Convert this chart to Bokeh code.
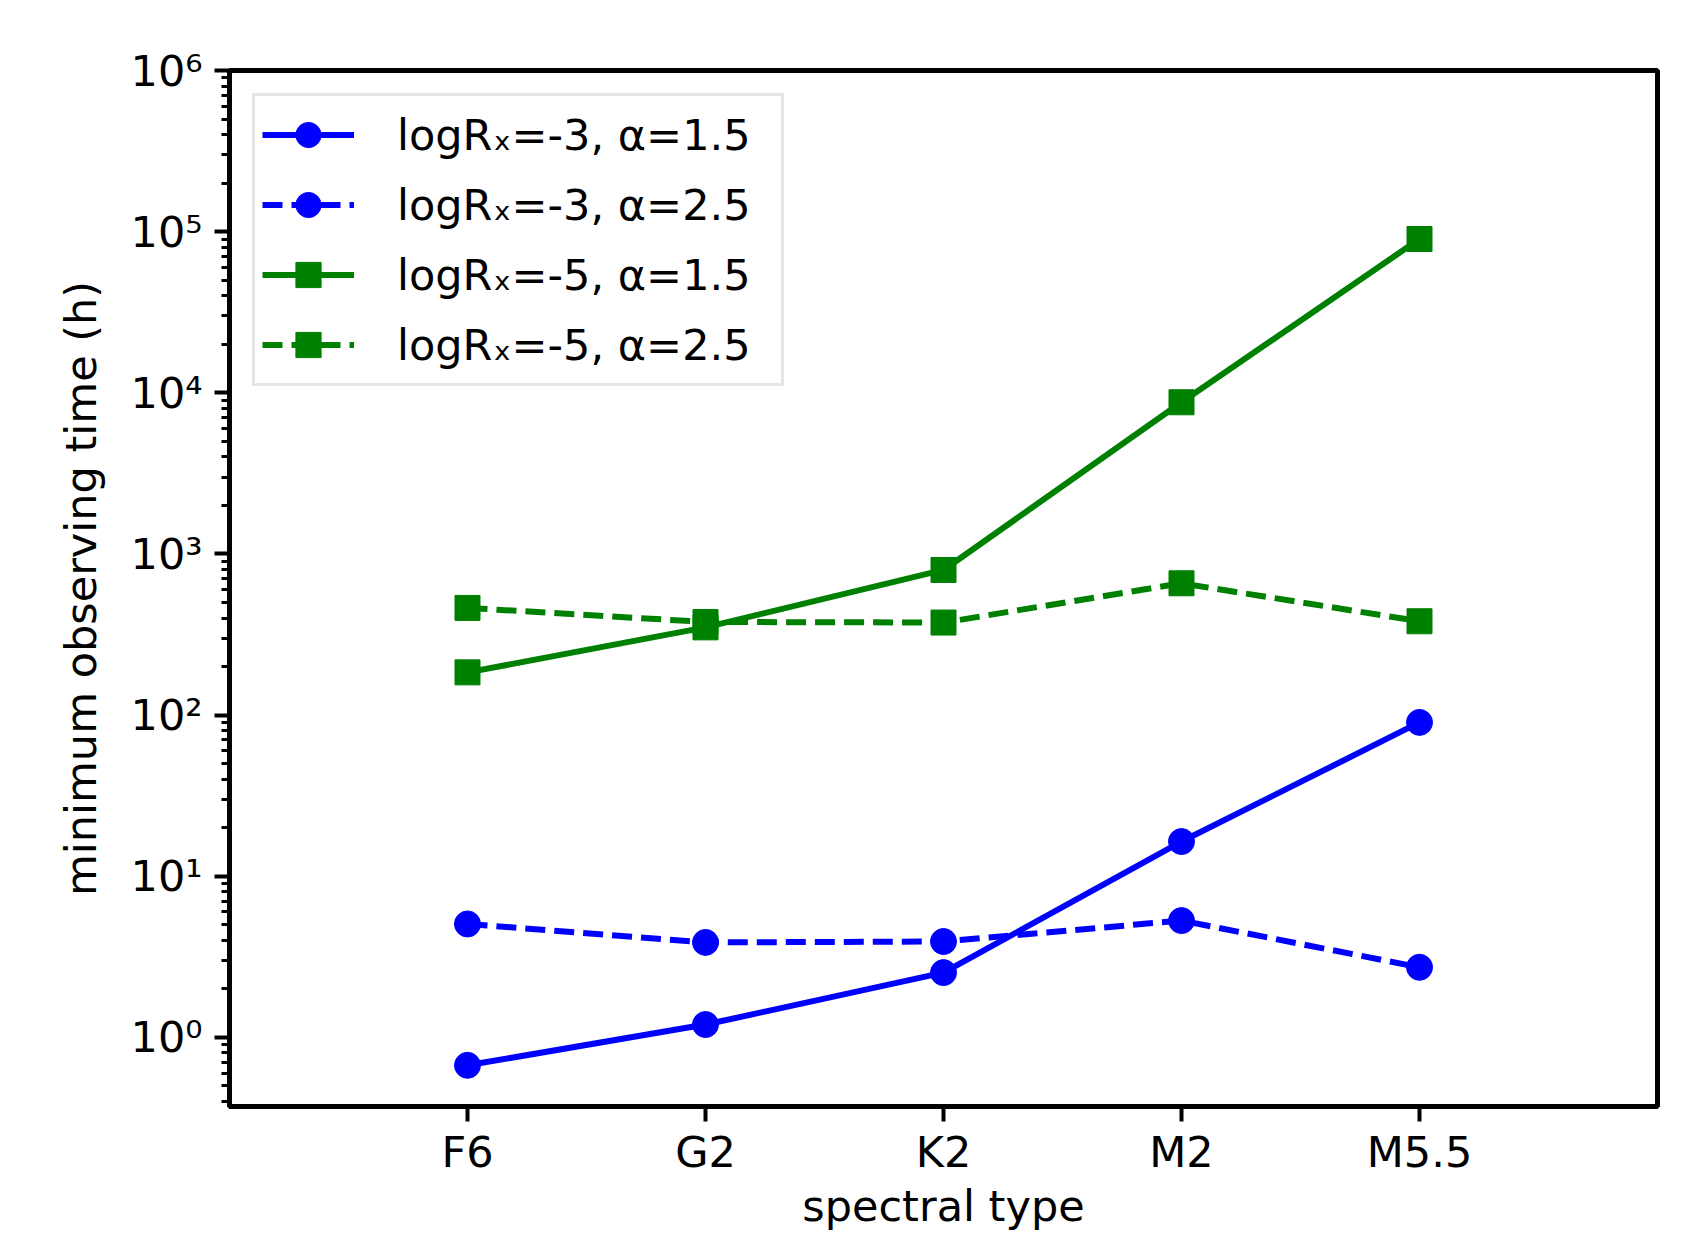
from bokeh.plotting import figure
from bokeh.models import (Range1d, FixedTicker, CustomJSTickFormatter, Legend, LegendItem)
from bokeh.embed import file_html
from bokeh.resources import INLINE

categories = ["F6", "G2", "K2", "M2", "M5.5"]
xpos = [0, 1, 2, 3, 4]
rx3_a15 = [0.67, 1.2, 2.52, 16.4, 90.0]
rx3_a25 = [5.05, 3.88, 3.93, 5.3, 2.72]
rx5_a15 = [184, 350, 795, 8730, 90000]
rx5_a25 = [462, 378, 375, 657, 382]
labels = ["logRₓ=-3, α=1.5", "logRₓ=-3, α=2.5", "logRₓ=-5, α=1.5", "logRₓ=-5, α=2.5"]

FONT = "DejaVu Sans"
FS = "43px"
DASH = "20 9"

p = figure(frame_width=1428, frame_height=1036, y_axis_type="log",
           x_range=Range1d(-1, 5), y_range=Range1d(0.372, 1e6),
           output_backend="svg", toolbar_location=None,
           min_border_left=229, min_border_right=23, min_border_top=70, min_border_bottom=118)
p.background_fill_color = "white"
p.border_fill_color = "white"
p.grid.visible = False
p.outline_line_color = "black"
p.outline_line_width = 5

r1 = p.line(xpos, rx3_a15, line_color="#0000ff", line_width=6)
s1 = p.scatter(xpos, rx3_a15, marker="circle", size=26, fill_color="#0000ff", line_color="#0000ff")
r2 = p.line(xpos, rx3_a25, line_color="#0000ff", line_width=6, line_dash=DASH)
s2 = p.scatter(xpos, rx3_a25, marker="circle", size=26, fill_color="#0000ff", line_color="#0000ff")
r3 = p.line(xpos, rx5_a15, line_color="#008000", line_width=6)
s3 = p.scatter(xpos, rx5_a15, marker="square", size=25, fill_color="#008000", line_color="#008000")
r4 = p.line(xpos, rx5_a25, line_color="#008000", line_width=6, line_dash=DASH)
s4 = p.scatter(xpos, rx5_a25, marker="square", size=25, fill_color="#008000", line_color="#008000")

# x axis
xa = p.xaxis[0]
xa.ticker = FixedTicker(ticks=xpos)
xa.major_label_overrides = {i: c for i, c in zip(xpos, categories)}
xa.axis_label = "spectral type"
xa.minor_tick_line_color = None

# y axis
ya = p.yaxis[0]
majors = [10.0 ** k for k in range(0, 7)]
minors = [m * 10.0 ** k for k in range(-1, 6) for m in range(2, 10) if 0.372 <= m * 10.0 ** k <= 1e6]
ya.ticker = FixedTicker(ticks=majors, minor_ticks=minors)
ya.formatter = CustomJSTickFormatter(code="""
const sup = {"0":"\u2070","1":"\u00b9","2":"\u00b2","3":"\u00b3","4":"\u2074","5":"\u2075","6":"\u2076","7":"\u2077","8":"\u2078","9":"\u2079","-":"\u207b"};
const e = Math.round(Math.log10(tick));
return "10" + String(e).split("").map(c => sup[c]).join("");
""")
ya.axis_label = "minimum observing time (h)"

for ax in (xa, ya):
    ax.axis_line_color = "black"
    ax.axis_line_width = 5
    ax.major_tick_line_color = "black"
    ax.major_tick_line_width = 4
    ax.major_tick_out = 15
    ax.major_tick_in = 0
    ax.minor_tick_out = 8
    ax.minor_tick_in = 0
    ax.minor_tick_line_width = 3
    ax.major_label_text_font = FONT
    ax.major_label_text_font_size = FS
    ax.major_label_text_color = "black"
    ax.axis_label_text_font = FONT
    ax.axis_label_text_font_size = FS
    ax.axis_label_text_font_style = "normal"
    ax.axis_label_text_color = "black"
xa.major_label_standoff = 5
xa.axis_label_standoff = 1
ya.major_label_standoff = 12
ya.axis_label_standoff = 22

legend = Legend(items=[LegendItem(label=labels[0], renderers=[r1, s1]),
                       LegendItem(label=labels[1], renderers=[r2, s2]),
                       LegendItem(label=labels[2], renderers=[r3, s3]),
                       LegendItem(label=labels[3], renderers=[r4, s4])],
                location="top_left", margin=23, padding=7, spacing=7,
                glyph_width=92, glyph_height=63, label_height=63, label_width=377,
                label_standoff=43,
                label_text_font=FONT, label_text_font_size=FS, label_text_color="black",
                border_line_color="#cccccc", border_line_width=3,
                background_fill_color="white", background_fill_alpha=0.8)
p.add_layout(legend)

open("out.html", "w", encoding="utf-8").write(file_html(p, INLINE))
